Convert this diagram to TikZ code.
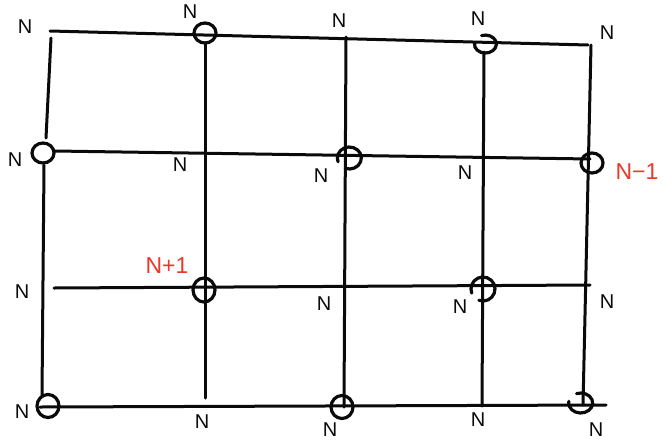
\documentclass[tikz,border=0pt]{standalone}
\usepackage{fontspec}
\setmainfont{Liberation Sans}
\usetikzlibrary{shapes.geometric}
\definecolor{InkBlack}{HTML}{0A0A0A}
\definecolor{PenRed}{HTML}{E8392B}

\begin{document}
\begin{tikzpicture}[
    x=1pt,y=-1pt,
    every node/.style={font=\fontsize{20}{20}\selectfont},
    wire/.style={InkBlack,line width=3pt,line cap=round},
    ring/.style={draw=InkBlack,ellipse,line width=3.2pt,inner sep=0pt,minimum width=22pt,minimum height=20pt},
    spot/.style={inner sep=0pt,minimum size=0pt},
    hook/.style={InkBlack,line width=3.2pt,line cap=round},
    lbl/.style={text=InkBlack,inner sep=0pt},
    redlbl/.style={text=PenRed,inner sep=0pt,font=\fontsize{23}{23}\selectfont}
  ]
    \useasboundingbox[fill=white] (0,0) rectangle (663,442);
    % grid ends
    \coordinate (tl) at (50,31);
    \coordinate (tr) at (588,45);
    \coordinate (la) at (51,38);
    \coordinate (lb) at (46,138);
    \coordinate (lc) at (44,165);
    \coordinate (ld) at (42,396);
    \coordinate (r2a) at (55,151);
    \coordinate (r2b) at (590,159);
    \coordinate (r3a) at (54,288);
    \coordinate (r3b) at (590,285);
    \coordinate (r4a) at (40,407);
    \coordinate (r4b) at (606,405);
    \coordinate (k2a) at (205,43);
    \coordinate (k2b) at (205,398);
    \coordinate (k3a) at (346,37);
    \coordinate (k3b) at (344,407);
    \coordinate (k4a) at (484,52);
    \coordinate (k4b) at (482,406);
    \coordinate (k5a) at (591,45);
    \coordinate (k5b) at (583,405);
    \draw[wire] (tl) -- (tr);
    \draw[wire] (la) -- (lb);
    \draw[wire] (lc) -- (ld);
    \draw[wire] (r2a) -- (r2b);
    \draw[wire] (r3a) -- (r3b);
    \draw[wire] (r4a) -- (r4b);
    \draw[wire] (k2a) -- (k2b);
    \draw[wire] (k3a) -- (k3b);
    \draw[wire] (k4a) -- (k4b);
    \draw[wire] (k5a) -- (k5b);
    % rings
    \node[ring] (c1) at (205,33) {};
    \node[ring] (c3) at (43,153) {};
    \node[ring] (c5) at (592,163) {};
    \node[ring,minimum height=24pt] (c6) at (204,290) {};
    \node[ring,minimum height=23pt] (c8) at (48,406) {};
    \node[ring,minimum height=23pt] (c9) at (342,407) {};
    \node[spot] (c2) at (485,45) {};
    \node[spot] (c4) at (349,158) {};
    \node[spot] (c7) at (483,289) {};
    \node[spot] (c10) at (580,403) {};
    \draw[hook] (c2) ++(110:10pt) arc[start angle=110,end angle=-190,x radius=11pt,y radius=9pt];
    \draw[hook] (c10) ++(110:10pt) arc[start angle=110,end angle=-190,x radius=12pt,y radius=10pt];
    \draw[hook] (c4) ++(-110:11pt) arc[start angle=-110,end angle=200,x radius=12pt,y radius=11pt];
    \draw[hook] (c7) ++(-110:12pt) arc[start angle=-110,end angle=200,x radius=12pt,y radius=12pt];
    % labels
    \node[lbl] (n1) at (25,27) {N};
    \node[lbl] (n2) at (190,12) {N};
    \node[lbl] (n3) at (339,21) {N};
    \node[lbl] (n4) at (478,19) {N};
    \node[lbl] (n5) at (607,33) {N};
    \node[lbl] (n6) at (15,160) {N};
    \node[lbl] (n7) at (180,165) {N};
    \node[lbl] (n8) at (321,176) {N};
    \node[lbl] (n9) at (465,173) {N};
    \node[lbl] (n10) at (22,292) {N};
    \node[lbl] (n11) at (324,304) {N};
    \node[lbl] (n12) at (460,307) {N};
    \node[lbl] (n13) at (607,302) {N};
    \node[lbl] (n14) at (22,412) {N};
    \node[lbl] (n15) at (202,422) {N};
    \node[lbl] (n16) at (330,430) {N};
    \node[lbl] (n17) at (478,420) {N};
    \node[lbl] (n18) at (596,430) {N};
    \node[redlbl] (up) at (167,266) {N+1};
    \node[redlbl] (dn) at (637,172) {N−1};
  \end{tikzpicture}
\end{document}
